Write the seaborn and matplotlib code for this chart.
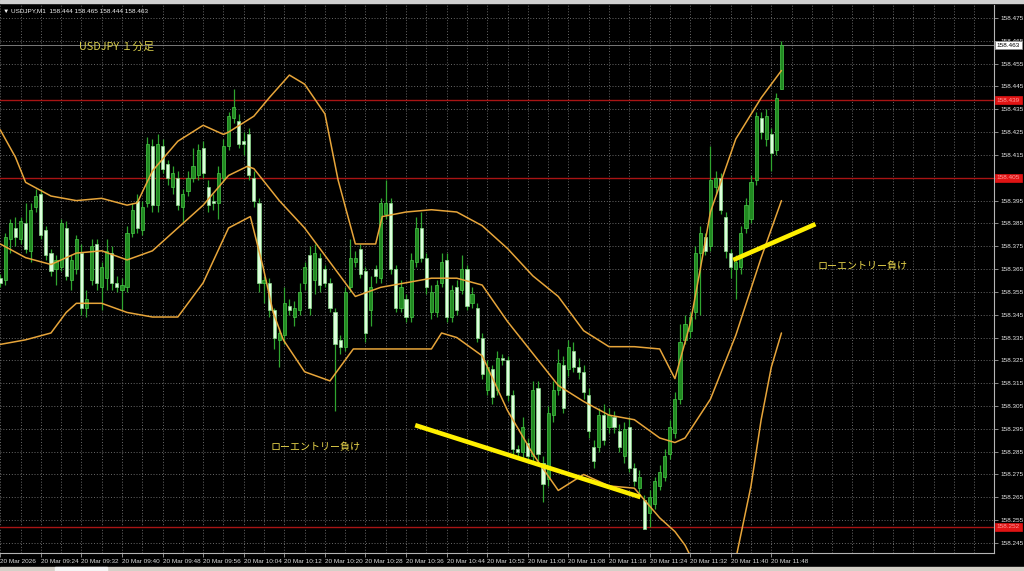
import numpy as np
import pandas as pd
import matplotlib
matplotlib.use("Agg")
import matplotlib.pyplot as plt
import seaborn as sns
from matplotlib.patches import Rectangle

sns.set_theme(style="dark", rc={"axes.facecolor": "black", "figure.facecolor": "black"})
plt.rcParams['font.family'] = ['Noto Sans CJK JP', 'DejaVu Sans']

# ---------------------------- data (USDJPY M1, one value per bar) ----------------------------
open_ = [158.361, 158.360, 158.378, 158.383, 158.378, 158.385, 158.373, 158.392, 158.398, 158.382,
         158.372, 158.365, 158.366, 158.383, 158.360, 158.365, 158.372, 158.348, 158.360, 158.376,
         158.357, 158.361, 158.372, 158.359, 158.356, 158.357, 158.381, 158.395, 158.382, 158.394,
         158.419, 158.393, 158.419, 158.411, 158.401, 158.405, 158.392, 158.399, 158.405, 158.406,
         158.418, 158.401, 158.395, 158.394, 158.405, 158.419, 158.431, 158.430, 158.421, 158.424,
         158.405, 158.394, 158.359, 158.359, 158.347, 158.334, 158.336, 158.349, 158.344, 158.347,
         158.359, 158.371, 158.360, 158.370, 158.365, 158.359, 158.346, 158.334, 158.331, 158.357,
         158.368, 158.374, 158.364, 158.347, 158.365, 158.361, 158.389, 158.394, 158.365, 158.348,
         158.352, 158.344, 158.368, 158.383, 158.370, 158.346, 158.346, 158.359, 158.369, 158.344,
         158.357, 158.356, 158.365, 158.350, 158.348, 158.335, 158.312, 158.321, 158.312, 158.326,
         158.325, 158.310, 158.286, 158.285, 158.289, 158.283, 158.313, 158.280, 158.273, 158.301,
         158.312, 158.323, 158.321, 158.329, 158.322, 158.320, 158.310, 158.287, 158.287, 158.301,
         158.296, 158.300, 158.294, 158.283, 158.296, 158.278, 158.269, 158.264, 158.258, 158.262,
         158.270, 158.274, 158.284, 158.293, 158.308, 158.334, 158.338, 158.346, 158.372, 158.379,
         158.375, 158.401, 158.405, 158.388, 158.372, 158.365, 158.366, 158.383, 158.387, 158.404,
         158.431, 158.422, 158.424, 158.417, 158.444]
high = [158.363, 158.381, 158.387, 158.388, 158.388, 158.394, 158.394, 158.400, 158.400, 158.384,
        158.374, 158.371, 158.387, 158.386, 158.371, 158.380, 158.376, 158.356, 158.378, 158.378,
        158.368, 158.378, 158.375, 158.362, 158.361, 158.384, 158.394, 158.398, 158.395, 158.423,
        158.422, 158.424, 158.422, 158.413, 158.410, 158.408, 158.400, 158.408, 158.418, 158.420,
        158.421, 158.404, 158.398, 158.410, 158.422, 158.434, 158.444, 158.433, 158.425, 158.427,
        158.408, 158.396, 158.362, 158.361, 158.348, 158.339, 158.357, 158.352, 158.351, 158.359,
        158.368, 158.375, 158.376, 158.372, 158.367, 158.361, 158.348, 158.336, 158.357, 158.378,
        158.373, 158.376, 158.366, 158.362, 158.367, 158.396, 158.404, 158.396, 158.367, 158.360,
        158.354, 158.372, 158.388, 158.390, 158.372, 158.358, 158.360, 158.372, 158.372, 158.358,
        158.360, 158.371, 158.367, 158.357, 158.350, 158.337, 158.325, 158.323, 158.329, 158.328,
        158.327, 158.312, 158.288, 158.300, 158.291, 158.316, 158.316, 158.283, 158.305, 158.316,
        158.330, 158.327, 158.334, 158.333, 158.326, 158.323, 158.313, 158.290, 158.304, 158.306,
        158.304, 158.303, 158.297, 158.298, 158.300, 158.280, 158.277, 158.266, 158.268, 158.274,
        158.279, 158.286, 158.299, 158.311, 158.341, 158.345, 158.346, 158.375, 158.384, 158.381,
        158.419, 158.408, 158.407, 158.390, 158.374, 158.371, 158.384, 158.396, 158.406, 158.434,
        158.434, 158.435, 158.427, 158.442, 158.465]
low = [158.357, 158.358, 158.372, 158.375, 158.376, 158.372, 158.368, 158.390, 158.378, 158.369,
       158.362, 158.358, 158.364, 158.360, 158.356, 158.363, 158.345, 158.344, 158.358, 158.356,
       158.347, 158.356, 158.356, 158.355, 158.347, 158.355, 158.379, 158.381, 158.380, 158.392,
       158.390, 158.390, 158.407, 158.402, 158.398, 158.391, 158.385, 158.397, 158.403, 158.404,
       158.405, 158.390, 158.391, 158.387, 158.403, 158.417, 158.429, 158.418, 158.415, 158.404,
       158.392, 158.355, 158.350, 158.344, 158.330, 158.322, 158.332, 158.345, 158.340, 158.345,
       158.356, 158.345, 158.354, 158.355, 158.357, 158.346, 158.303, 158.328, 158.329, 158.355,
       158.366, 158.361, 158.333, 158.340, 158.359, 158.359, 158.387, 158.363, 158.346, 158.346,
       158.342, 158.342, 158.366, 158.368, 158.354, 158.343, 158.344, 158.357, 158.342, 158.342,
       158.345, 158.354, 158.347, 158.348, 158.333, 158.317, 158.310, 158.306, 158.310, 158.323,
       158.307, 158.283, 158.282, 158.282, 158.280, 158.281, 158.281, 158.263, 158.270, 158.298,
       158.310, 158.302, 158.318, 158.320, 158.317, 158.308, 158.291, 158.278, 158.285, 158.288,
       158.293, 158.293, 158.285, 158.280, 158.276, 158.270, 158.266, 158.251, 158.252, 158.260,
       158.268, 158.272, 158.282, 158.291, 158.306, 158.332, 158.335, 158.343, 158.345, 158.371,
       158.373, 158.398, 158.389, 158.370, 158.361, 158.352, 158.363, 158.381, 158.385, 158.402,
       158.422, 158.419, 158.408, 158.415, 158.444]
close = [158.359, 158.379, 158.385, 158.379, 158.386, 158.374, 158.391, 158.397, 158.380, 158.371,
         158.364, 158.369, 158.385, 158.362, 158.369, 158.378, 158.348, 158.352, 158.375, 158.359,
         158.366, 158.373, 158.359, 158.357, 158.358, 158.381, 158.391, 158.383, 158.392, 158.420,
         158.393, 158.420, 158.409, 158.405, 158.407, 158.393, 158.398, 158.405, 158.410, 158.417,
         158.407, 158.393, 158.394, 158.407, 158.419, 158.432, 158.436, 158.420, 158.420, 158.406,
         158.395, 158.359, 158.360, 158.347, 158.335, 158.337, 158.350, 158.347, 158.348, 158.355,
         158.366, 158.348, 158.372, 158.358, 158.359, 158.348, 158.332, 158.331, 158.355, 158.370,
         158.370, 158.363, 158.337, 158.357, 158.362, 158.394, 158.394, 158.365, 158.348, 158.357,
         158.344, 158.369, 158.383, 158.370, 158.357, 158.355, 158.358, 158.368, 158.344, 158.356,
         158.347, 158.365, 158.349, 158.354, 158.335, 158.319, 158.322, 158.309, 158.326, 158.325,
         158.310, 158.286, 158.285, 158.296, 158.283, 158.312, 158.284, 158.271, 158.302, 158.312,
         158.324, 158.304, 158.331, 158.322, 158.320, 158.311, 158.294, 158.281, 158.301, 158.290,
         158.301, 158.296, 158.287, 158.295, 158.278, 158.272, 158.274, 158.251, 158.265, 158.272,
         158.276, 158.283, 158.296, 158.308, 158.333, 158.341, 158.344, 158.372, 158.381, 158.373,
         158.404, 158.405, 158.391, 158.373, 158.366, 158.368, 158.381, 158.393, 158.403, 158.432,
         158.425, 158.432, 158.416, 158.440, 158.463]

# Bollinger bands (bar position, price)
upper_bars = [0, 3, 5, 10, 15, 20, 25, 27, 30, 35, 40, 44, 45, 50, 53, 57, 60, 64, 66.6, 70,
              74, 75.3, 80, 85, 90, 95, 100, 105, 110, 115, 120, 125, 130, 133, 136, 138, 140,
              145, 150, 154]
bb_upper = [158.426, 158.414, 158.403, 158.397, 158.395, 158.396, 158.393, 158.394, 158.408,
            158.421, 158.428, 158.424, 158.425, 158.432, 158.440, 158.450, 158.446, 158.433,
            158.404, 158.376, 158.376, 158.388, 158.390, 158.391, 158.390, 158.384, 158.374,
            158.362, 158.353, 158.338, 158.331, 158.331, 158.330, 158.317, 158.341, 158.365,
            158.390, 158.422, 158.440, 158.452]
middle_bars = [0, 5, 10, 15, 20, 25, 30, 35, 40, 45, 48.7, 50, 55, 60, 65, 70, 75, 80, 85, 90,
               95, 100, 105, 110, 115, 120, 125, 130, 133, 135, 140, 145, 150, 154]
bb_middle = [158.376, 158.370, 158.367, 158.372, 158.373, 158.369, 158.373, 158.383, 158.393,
             158.406, 158.410, 158.409, 158.395, 158.383, 158.368, 158.353, 158.357, 158.359,
             158.361, 158.361, 158.358, 158.342, 158.328, 158.314, 158.307, 158.301, 158.299,
             158.291, 158.289, 158.291, 158.308, 158.336, 158.370, 158.395]
lower_bars = [0, 5, 10, 13, 15, 20, 25, 30, 35, 40, 45, 49.3, 51.8, 53.8, 55.8, 60, 65, 69.6,
              75, 80, 85, 87, 90, 95, 100, 105, 110, 115, 120, 125, 130, 133, 135, 140, 143,
              145, 148, 150, 152, 154]
bb_lower = [158.332, 158.334, 158.337, 158.346, 158.350, 158.350, 158.346, 158.344, 158.344,
            158.359, 158.383, 158.388, 158.366, 158.346, 158.334, 158.320, 158.316, 158.330,
            158.330, 158.330, 158.330, 158.337, 158.335, 158.327, 158.303, 158.284, 158.268,
            158.275, 158.270, 158.269, 158.256, 158.250, 158.244, 158.222, 158.228, 158.238,
            158.270, 158.299, 158.322, 158.337]

level_lines = [158.439, 158.405, 158.252]
last_price = 158.463

price_ticks = [158.475, 158.465, 158.455, 158.445, 158.435, 158.425, 158.415, 158.405,
               158.395, 158.385, 158.375, 158.365, 158.355, 158.345, 158.335, 158.325,
               158.315, 158.305, 158.295, 158.285, 158.275, 158.265, 158.255, 158.245]
hidden_ticks = [158.405]   # covered by the red level box
time_tick_bars = [0, 8, 16, 24, 32, 40, 48, 56, 64, 72, 80, 88, 96, 104, 112, 120, 128, 136, 144, 152]
time_labels = ["20 Mar 2026", "20 Mar 09:24", "20 Mar 09:32", "20 Mar 09:40", "20 Mar 09:48",
               "20 Mar 09:56", "20 Mar 10:04", "20 Mar 10:12", "20 Mar 10:20", "20 Mar 10:28",
               "20 Mar 10:36", "20 Mar 10:44", "20 Mar 10:52", "20 Mar 11:00", "20 Mar 11:08",
               "20 Mar 11:16", "20 Mar 11:24", "20 Mar 11:32", "20 Mar 11:40", "20 Mar 11:48"]

# hand drawn trend lines (bar, price)
trend1_bars = [81.8, 126.2]
trend1_prices = [158.2966, 158.2651]
trend2_bars = [144.5, 160.7]
trend2_prices = [158.3690, 158.3847]

note_text = "ローエントリー負け"
title_text = "USDJPY １分足"
header_text = "▼ USDJPY,M1  158.444 158.465 158.444 158.463"

# ---------------------------- figure ----------------------------
fig = plt.figure(figsize=(10.24, 5.71), dpi=100)
ax = fig.add_axes([0, 1 - 553 / 571, 994 / 1024, 548 / 571])
ax.set_facecolor('black')

df = pd.DataFrame({'open': open_, 'high': high, 'low': low, 'close': close})
df['bar'] = np.arange(len(df))
df['bottom'] = df[['open', 'close']].min(axis=1)
df['size'] = np.maximum((df['close'] - df['open']).abs(), 0.0004)
bull = df[df['close'] >= df['open']]
bear = df[df['close'] < df['open']]

ax.vlines(df['bar'], df['low'], df['high'], color='#2fa52f', lw=0.9, zorder=2)
ax.bar(bull['bar'], bull['size'], bottom=bull['bottom'], width=0.62,
       color='#218a21', edgecolor='#48c848', lw=0.5, zorder=3)
ax.bar(bear['bar'], bear['size'], bottom=bear['bottom'], width=0.62,
       color='#dcffdc', edgecolor='#8ad88a', lw=0.5, zorder=3)

# bollinger bands
band_color = '#e7a53a'
for bx, by in ((upper_bars, bb_upper), (middle_bars, bb_middle), (lower_bars, bb_lower)):
    sns.lineplot(x=bx, y=by, ax=ax, color=band_color, linewidth=1.1,
                 estimator=None, sort=False, zorder=4)

# horizontal levels
for lv in level_lines:
    ax.axhline(lv, color='#a81414', lw=1.0, zorder=1.5)
ax.axhline(last_price, color='#8c8c8c', lw=0.6, zorder=1.5)

# trend lines
for tb, tp in ((trend1_bars, trend1_prices), (trend2_bars, trend2_prices)):
    ax.plot(tb, tp, color='#fff000', lw=3.3, solid_capstyle='butt', zorder=6)

ax.text(53.2, 158.287, note_text, color='#ecd84c', fontsize=7.2, va='center', ha='left', zorder=7)
ax.text(161.2, 158.3663, note_text, color='#ecd84c', fontsize=7.2, va='center', ha='left', zorder=7)
ax.text(15.6, 158.4622, title_text, color='#d6cb4a', fontsize=7.8, va='center', ha='left', zorder=7)

# axes, ticks, grid
ax.set_xlim(-0.05, 195.9)
ax.set_ylim(158.2406, 158.4807)

ax.yaxis.tick_right()
ax.set_yticks(price_ticks)
ax.set_yticklabels(["" if p in hidden_ticks else f"{p:.3f}" for p in price_ticks])
ax.tick_params(axis='y', which='major', direction='out', length=3, width=0.6, color='#a0a0a0',
               pad=2, labelsize=4.6, labelcolor='#e6e6e6', right=True, left=False)
for t in ax.get_yticklabels():
    t.set_family('Liberation Sans')

ax.set_xticks(time_tick_bars)
ax.set_xticklabels(time_labels)
ax.set_xticks(np.arange(0, 196, 4), minor=True)
ax.tick_params(axis='x', which='major', direction='out', length=3, width=0.6, color='#a0a0a0',
               pad=1.5, labelsize=4.6, labelcolor='#dadada', bottom=True)
ax.tick_params(axis='x', which='minor', length=0)
for t in ax.get_xticklabels():
    t.set_ha('left')
    t.set_family('Liberation Sans')

grid_kw = dict(color='#767676', lw=0.6, ls=(0, (1.2, 2.2)))
ax.grid(False)
ax.grid(True, which='both', axis='x', **grid_kw)
ax.grid(True, which='major', axis='y', **grid_kw)
ax.set_axisbelow(True)
ax.set_xlabel('')
ax.set_ylabel('')

for side in ('left', 'top'):
    ax.spines[side].set_visible(False)
for side in ('right', 'bottom'):
    ax.spines[side].set_visible(True)
    ax.spines[side].set_color('#b4b4b4')
    ax.spines[side].set_linewidth(0.8)

# price boxes on the axis
ytr = ax.get_yaxis_transform()
ax.text(1.003, last_price, f"{last_price:.3f}", transform=ytr, fontsize=4.6, color='black',
        va='center', ha='left', family='Liberation Sans', zorder=8, clip_on=False,
        bbox=dict(boxstyle='square,pad=0.25', fc='white', ec='#909090', lw=0.5))
for lv in level_lines:
    ax.text(1.003, lv, f"{lv:.3f}", transform=ytr, fontsize=4.6, color='#ff9a9a',
            va='center', ha='left', family='Liberation Sans', zorder=8, clip_on=False,
            bbox=dict(boxstyle='square,pad=0.25', fc='#e01414', ec='#e01414', lw=0.5))

# header line and window borders
fig.text(3 / 1024, 1 - 11 / 571, header_text, fontsize=4.6, color='#f0f0f0', va='center',
         ha='left', family=['Liberation Sans', 'DejaVu Sans'])
fig.patches.append(Rectangle((0, 1 - 3 / 571), 1, 3 / 571, transform=fig.transFigure,
                             color='#d0d0d0', zorder=0))
fig.patches.append(Rectangle((0, 0), 1, 4 / 571, transform=fig.transFigure,
                             color='#d4d0c8', zorder=0))
fig.patches.append(Rectangle((55 / 1024, 0), 52 / 1024, 4 / 571, transform=fig.transFigure,
                             color='#f4f4f4', zorder=0))

fig.savefig('out.png', dpi=100, facecolor='black')
